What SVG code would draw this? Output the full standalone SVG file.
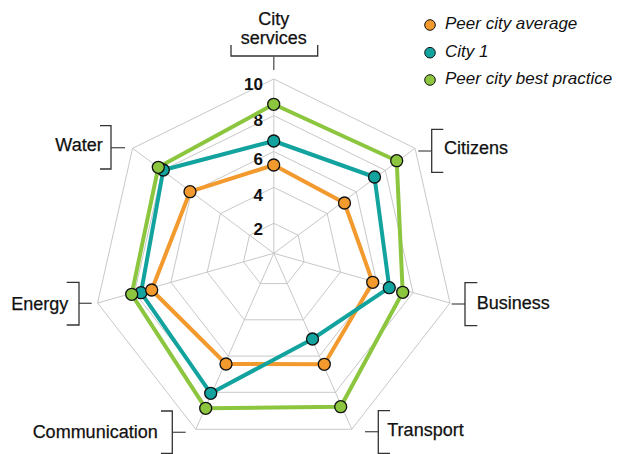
<svg xmlns="http://www.w3.org/2000/svg" width="639" height="454" viewBox="0 0 639 454">
<style>
.grid{fill:none;stroke:#c8c8c8;stroke-width:1}
.br{fill:none;stroke:#333;stroke-width:1.3}
.stub{fill:none;stroke:#555;stroke-width:1.3}
.lbl{font-family:"Liberation Sans",Arial,sans-serif;font-size:18px;fill:#111;stroke:#111;stroke-width:0.25}
.num{font-family:"Liberation Sans",Arial,sans-serif;font-size:17px;font-weight:bold;fill:#111;text-anchor:end}
.leg{font-family:"Liberation Sans",Arial,sans-serif;font-size:17px;font-style:italic;fill:#111}
.s{fill:none;stroke-width:4;stroke-linejoin:round}
.o{stroke:#F39A2E}.t{stroke:#12A39E}.g{stroke:#8CC63F}
.dot{stroke:#111;stroke-width:1.3}
.fo{fill:#F39A2E}.ft{fill:#12A39E}.fg{fill:#8CC63F}
</style>
<rect width="639" height="454" fill="#fff"/>
<g id="grid">
<polygon class="grid" points="273.8,79 415,148.3 450,303 351.8,429.3 195.8,429.3 97.6,303 132.6,148.3"/>
<polygon class="grid" points="273.8,115.6 385.3,170.3 413,292.6 335.4,392.3 212.2,392.3 134.6,292.6 162.3,170.3"/>
<polygon class="grid" points="273.8,151.5 356.3,192 376.7,282.3 319.4,356.1 228.2,356.1 170.9,282.3 191.3,192"/>
<polygon class="grid" points="273.8,187.4 327.2,213.6 340.4,272.1 303.3,319.8 244.3,319.8 207.2,272.1 220.4,213.6"/>
<polygon class="grid" points="273.8,223.3 298.1,235.2 304.1,261.8 287.2,283.6 260.4,283.6 243.5,261.8 249.5,235.2"/>
<path class="grid" d="M273.8,253.3L273.8,79M273.8,253.3L415,148.3M273.8,253.3L450,303M273.8,253.3L351.8,429.3M273.8,253.3L195.8,429.3M273.8,253.3L97.6,303M273.8,253.3L132.6,148.3"/>
</g>
<g id="scale">
<text class="num" x="263" y="89.5">10</text>
<text class="num" x="263" y="125.5">8</text>
<text class="num" x="263" y="164.5">6</text>
<text class="num" x="263" y="201">4</text>
<text class="num" x="263" y="235">2</text>
</g>
<g id="connectors">
<polygon class="s o" points="273.7,165 344.5,203 372.7,282.3 324.3,364.3 226,364 151.7,290 190,191.7"/>
<polygon class="s t" points="273.7,141 374.5,177 389.3,287.7 312.5,339 210.7,393.3 141,292.7 163.3,170"/>
<polygon class="s g" points="273.7,104.3 396.7,160.7 402.7,292.3 340.7,406.7 205.7,408.3 131.7,294.3 158.3,167.3"/>
</g>
<g id="series-city1">
<circle class="dot ft" cx="273.7" cy="141" r="6"/>
<circle class="dot ft" cx="374.5" cy="177" r="6"/>
<circle class="dot ft" cx="389.3" cy="287.7" r="6"/>
<circle class="dot ft" cx="312.5" cy="339" r="6"/>
<circle class="dot ft" cx="210.7" cy="393.3" r="6"/>
<circle class="dot ft" cx="141" cy="292.7" r="6"/>
<circle class="dot ft" cx="163.3" cy="170" r="6"/>
</g>
<g id="series-best">
<circle class="dot fg" cx="273.7" cy="104.3" r="6"/>
<circle class="dot fg" cx="396.7" cy="160.7" r="6"/>
<circle class="dot fg" cx="402.7" cy="292.3" r="6"/>
<circle class="dot fg" cx="340.7" cy="406.7" r="6"/>
<circle class="dot fg" cx="205.7" cy="408.3" r="6"/>
<circle class="dot fg" cx="131.7" cy="294.3" r="6"/>
<circle class="dot fg" cx="158.3" cy="167.3" r="6"/>
</g>
<g id="series-average">
<circle class="dot fo" cx="273.7" cy="165" r="6"/>
<circle class="dot fo" cx="344.5" cy="203" r="6"/>
<circle class="dot fo" cx="372.7" cy="282.3" r="6"/>
<circle class="dot fo" cx="324.3" cy="364.3" r="6"/>
<circle class="dot fo" cx="226" cy="364" r="6"/>
<circle class="dot fo" cx="151.7" cy="290" r="6"/>
<circle class="dot fo" cx="190" cy="191.7" r="6"/>
</g>
<g id="axis-city-services">
<text class="lbl" x="273.8" y="25.3" text-anchor="middle">City</text>
<text class="lbl" x="273.8" y="43.7" text-anchor="middle">services</text>
<path class="br" d="M231,45V56H317.7V45"/>
<path class="stub" d="M273.8,56V70"/>
</g>
<g id="axis-citizens">
<path class="stub" d="M418.3,151H431.7"/>
<path class="br" d="M443.3,129.3H431.7V172.3H443.3"/>
<text class="lbl" x="444" y="154">Citizens</text>
</g>
<g id="axis-business">
<path class="stub" d="M451.7,304H465"/>
<path class="br" d="M477.3,282.7H465V325.7H477.3"/>
<text class="lbl" x="476.7" y="309">Business</text>
</g>
<g id="axis-transport">
<path class="stub" d="M365,431.7H378.3"/>
<path class="br" d="M390,410.7H378.3V453.5H390"/>
<text class="lbl" x="387.3" y="436">Transport</text>
</g>
<g id="axis-communication">
<path class="stub" d="M172.3,432.3H185.7"/>
<path class="br" d="M161,411H172.3V453.5H161"/>
<text class="lbl" x="157.7" y="437.7" text-anchor="end">Communication</text>
</g>
<g id="axis-energy">
<path class="stub" d="M79,303.3H91.7"/>
<path class="br" d="M66.7,282.3H79V325H66.7"/>
<text class="lbl" x="68.3" y="310" text-anchor="end">Energy</text>
</g>
<g id="axis-water">
<path class="stub" d="M111,147.7H125"/>
<path class="br" d="M100,125.7H111V169H100"/>
<text class="lbl" x="102.7" y="151" text-anchor="end">Water</text>
</g>
<g id="legend">
<circle class="fo" cx="430" cy="25" r="5.3" stroke="#111" stroke-width="1"/>
<text class="leg" x="445" y="29.3">Peer city average</text>
<circle class="ft" cx="430" cy="52.7" r="5.3" stroke="#111" stroke-width="1"/>
<text class="leg" x="445" y="56.7">City 1</text>
<circle class="fg" cx="430" cy="80" r="5.3" stroke="#111" stroke-width="1"/>
<text class="leg" x="445" y="84.3">Peer city best practice</text>
</g>
</svg>
